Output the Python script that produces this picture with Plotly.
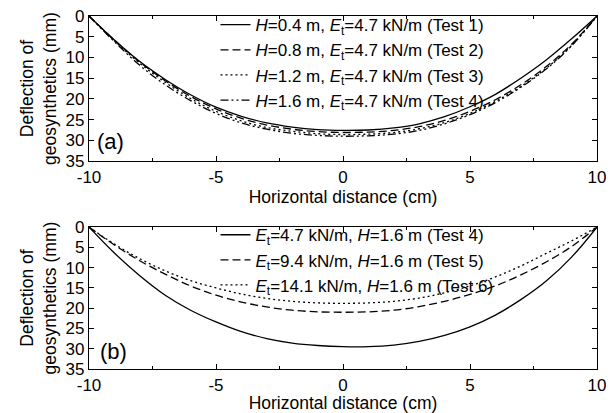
import plotly.graph_objects as go

# ---------------- data ----------------
x_cm = [-10, -9, -8, -7, -6, -5, -4, -3, -2, -1, 0, 1, 2, 3, 4, 5, 6, 7, 8, 9, 10]

# panel (a): different fill heights, Et = 4.7 kN/m
a_test1 = [0, 5.8, 11.0, 15.3, 19.0, 22.0, 24.2, 25.8, 26.8, 27.4, 27.6, 27.5, 27.0, 26.0, 24.3, 21.9, 18.9, 15.0, 10.6, 5.5, 0]
a_test2 = [0, 5.8, 11.1, 15.6, 19.4, 22.4, 24.7, 26.3, 27.3, 27.9, 28.1, 28.0, 27.6, 26.7, 25.2, 23.0, 20.2, 16.6, 12.2, 6.8, 0]
a_test3 = [0, 6.0, 11.4, 16.0, 19.9, 23.0, 25.3, 26.9, 27.8, 28.4, 28.6, 28.5, 28.1, 27.2, 25.7, 23.5, 20.6, 17.0, 12.6, 7.1, 0]
a_test4 = [0, 6.2, 11.9, 16.6, 20.4, 23.5, 25.8, 27.3, 28.3, 28.8, 29.0, 28.9, 28.5, 27.6, 26.0, 23.8, 20.9, 17.2, 12.8, 7.2, 0]

# panel (b): different stiffness, H = 1.6 m
b_test4 = [0, 6.4, 12.0, 16.8, 20.5, 23.4, 25.8, 27.5, 28.6, 29.2, 29.5, 29.5, 29.1, 28.2, 26.7, 24.6, 21.7, 17.9, 13.3, 7.4, 0]
b_test5 = [0, 4.4, 8.3, 11.6, 14.5, 16.8, 18.5, 19.7, 20.5, 20.9, 21.0, 20.9, 20.5, 19.6, 18.3, 16.6, 14.5, 11.8, 8.6, 4.8, 0]
b_test6 = [0, 4.2, 7.8, 10.8, 13.2, 15.0, 16.5, 17.6, 18.3, 18.7, 18.8, 18.7, 18.3, 17.5, 16.2, 14.5, 12.3, 9.6, 6.5, 3.4, 0]

a_names = [
    "<i>H</i>=0.4 m, <i>E</i><sub>t</sub>=4.7 kN/m (Test 1)",
    "<i>H</i>=0.8 m, <i>E</i><sub>t</sub>=4.7 kN/m (Test 2)",
    "<i>H</i>=1.2 m, <i>E</i><sub>t</sub>=4.7 kN/m (Test 3)",
    "<i>H</i>=1.6 m, <i>E</i><sub>t</sub>=4.7 kN/m (Test 4)",
]
b_names = [
    "<i>E</i><sub>t</sub>=4.7 kN/m, <i>H</i>=1.6 m (Test 4)",
    "<i>E</i><sub>t</sub>=9.4 kN/m, <i>H</i>=1.6 m (Test 5)",
    "<i>E</i><sub>t</sub>=14.1 kN/m, <i>H</i>=1.6 m (Test 6)",
]

x_ticks = [-10, -5, 0, 5, 10]
x_tick_text = ["-10", "-5", "0", "5", "10"]
y_ticks = [0, 5, 10, 15, 20, 25, 30, 35]
y_tick_text = ["0", "5", "10", "15", "20", "25", "30", "35"]

x_title = "Horizontal distance (cm)"
y_title = "Deflection of<br>geosynthetics (mm)"
panel_labels = ["(a)", "(b)"]

# ---------------- styles ----------------
FONT = "Liberation Sans, Arial, sans-serif"
dash_a = ["solid", "8px,4px", "2px,3px", "8px,3px,2px,3px,2px,3px"]
dash_b = ["solid", "8px,4px", "2px,3px"]

fig = go.Figure()

for i, (ys, nm) in enumerate(zip([a_test1, a_test2, a_test3, a_test4], a_names)):
    fig.add_trace(go.Scatter(
        x=x_cm, y=ys, name=nm, mode="lines",
        line=dict(color="black", width=1.3, dash=dash_a[i], shape="spline", smoothing=1.0),
        xaxis="x", yaxis="y", legend="legend", legendgroup="a%d" % i,
    ))

for i, (ys, nm) in enumerate(zip([b_test4, b_test5, b_test6], b_names)):
    fig.add_trace(go.Scatter(
        x=x_cm, y=ys, name=nm, mode="lines",
        line=dict(color="black", width=1.3, dash=dash_b[i], shape="spline", smoothing=1.0),
        xaxis="x2", yaxis="y2", legend="legend2", legendgroup="b%d" % i,
    ))

axis_common = dict(
    showline=True, linecolor="black", linewidth=1.2, mirror="ticks",
    ticks="inside", ticklen=5, tickwidth=1, tickcolor="black",
    showgrid=False, zeroline=False,
    tickfont=dict(family=FONT, size=17, color="black"),
)

xaxis_kw = dict(axis_common, range=[-10, 10], tickvals=x_ticks, ticktext=x_tick_text,
                minor=dict(ticks="inside", ticklen=3, dtick=2.5, tick0=-10, tickcolor="black", showgrid=False),
                title=dict(text=x_title, font=dict(family=FONT, size=17.5, color="black"), standoff=2))
yaxis_kw = dict(axis_common, range=[35, 0], tickvals=y_ticks, ticktext=y_tick_text,
                title=dict(text=y_title, font=dict(family=FONT, size=17.5, color="black"), standoff=4))

fig.update_layout(
    width=614, height=413,
    margin=dict(l=89, r=17, t=16, b=44, autoexpand=False),
    paper_bgcolor="white", plot_bgcolor="white",
    font=dict(family=FONT, size=17, color="black"),
    xaxis=dict(xaxis_kw, anchor="y", domain=[0, 1]),
    yaxis=dict(yaxis_kw, anchor="x", domain=[0.589, 1]),
    xaxis2=dict(xaxis_kw, anchor="y2", domain=[0, 1]),
    yaxis2=dict(yaxis_kw, anchor="x2", domain=[0, 0.402]),
    legend=dict(x=0.249, y=1.025, xanchor="left", yanchor="top", bgcolor="rgba(0,0,0,0)",
                font=dict(family=FONT, size=17, color="black"), tracegroupgap=7,
                traceorder="normal", itemclick=False),
    legend2=dict(x=0.249, y=0.43, xanchor="left", yanchor="top", bgcolor="rgba(0,0,0,0)",
                 font=dict(family=FONT, size=17, color="black"), tracegroupgap=2,
                 traceorder="normal", itemclick=False),
    showlegend=True,
    annotations=[
        dict(text=panel_labels[0], xref="x", yref="y", x=-9.15, y=30.3, showarrow=False,
             font=dict(family=FONT, size=22, color="black")),
        dict(text=panel_labels[1], xref="x2", yref="y2", x=-9.05, y=30.6, showarrow=False,
             font=dict(family=FONT, size=22, color="black")),
    ],
)

fig.write_html("out.html")
